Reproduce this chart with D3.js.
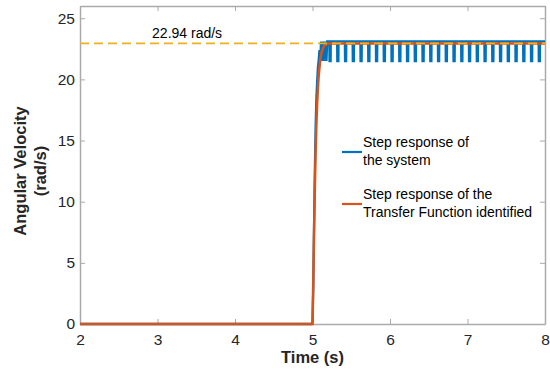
<!DOCTYPE html>
<html>
<head>
<meta charset="utf-8">
<script src="https://cdn.jsdelivr.net/npm/d3@7"></script>
<style>
  body { margin: 0; background: #fff; }
  text { font-family: "Liberation Sans", Arial, sans-serif; }
</style>
</head>
<body>
<div class="chart"></div>
<script>
// step response of the system (blue): rise, then plateau with periodic dips
const riseTime = [2, 4.99, 5.0, 5.01, 5.02, 5.03, 5.04, 5.05, 5.06, 5.07, 5.08, 5.09, 5.1, 5.11, 5.12, 5.13, 5.14, 5.15, 5.16, 5.17, 5.18, 5.19, 5.2]
const riseValue = [0, 0, 0.2, 3, 8, 12.5, 16, 18.5, 19.8, 21, 21.6, 22.4, 21.5, 23.1, 21.5, 23.1, 21.5, 23.1, 21.5, 23.1, 21.5, 23.1, 23.1]
const dipTimes = [5.22, 5.32, 5.42, 5.52, 5.62, 5.72, 5.82, 5.92, 6.02, 6.12, 6.22, 6.32, 6.42, 6.52,
  6.62, 6.72, 6.82, 6.92, 7.02, 7.12, 7.22, 7.32, 7.42, 7.52, 7.62, 7.72, 7.82, 7.92]
const plateauTop = 23.1
const dipLow = 21.5

// identified transfer function (orange)
const tfTime = [2, 4.99, 5.0, 5.01, 5.02, 5.03, 5.04, 5.05, 5.06, 5.07, 5.08, 5.1, 5.12, 5.15, 5.2, 8]
const tfValue = [0, 0, 0, 3.5, 7.5, 11, 14, 16.3, 18, 19.3, 20.3, 21.6, 22.3, 22.75, 22.94, 22.94]

const steadyValue = 22.94
const xTicks = [2, 3, 4, 5, 6, 7, 8]
const yTicks = [0, 5, 10, 15, 20, 25]

const margin = { top: 6, right: 5, bottom: 45, left: 80 }
const width = 550 - margin.left - margin.right
const height = 369 - margin.top - margin.bottom

const svg = d3.select('.chart').append('svg')
  .attr('width', 550).attr('height', 369)
  .append('g')
  .attr('transform', `translate(${margin.left}, ${margin.top})`)

const x = d3.scaleLinear().domain([2, 8]).range([0, width])
const y = d3.scaleLinear().domain([0, 26]).range([height, 0])

// axes with inward ticks, box on (drawn first so the lines sit on top)
const axisColor = '#aaa'
const styleAxis = g => {
  g.select('.domain').attr('stroke', axisColor).attr('stroke-width', 1.5)
  g.selectAll('.tick line').attr('stroke', axisColor)
  g.selectAll('.tick text').attr('fill', '#262626').style('font-size', '15.5px')
}
svg.append('g').attr('transform', `translate(0, ${height})`)
  .call(d3.axisBottom(x).tickValues(xTicks).tickFormat(d3.format('d')).tickSize(-5).tickPadding(10).tickSizeOuter(0))
  .call(styleAxis)
svg.append('g')
  .call(d3.axisLeft(y).tickValues(yTicks).tickFormat(d3.format('d')).tickSize(-5).tickPadding(5).tickSizeOuter(0))
  .call(styleAxis)
svg.append('g')
  .call(d3.axisTop(x).tickValues(xTicks).tickSize(-5).tickFormat('').tickSizeOuter(0))
  .call(styleAxis)
svg.append('g').attr('transform', `translate(${width}, 0)`)
  .call(d3.axisRight(y).tickValues(yTicks).tickSize(-5).tickFormat('').tickSizeOuter(0))
  .call(styleAxis)

// build blue series from the arrays above
const blue = riseTime.map((t, i) => [t, riseValue[i]])
dipTimes.forEach(t => {
  blue.push([t - 0.002, plateauTop], [t, dipLow], [t + 0.014, dipLow], [t + 0.016, plateauTop])
})
blue.push([8, plateauTop])
const orange = tfTime.map((t, i) => [t, tfValue[i]])

const line = d3.line().x(d => x(d[0])).y(d => y(d[1]))

svg.append('path').datum(blue)
  .attr('d', line).attr('fill', 'none').attr('stroke', '#0072BD').attr('stroke-width', 2.3)
svg.append('path').datum(orange)
  .attr('d', line).attr('fill', 'none').attr('stroke', '#D95319').attr('stroke-width', 2.5)

svg.append('line')
  .attr('x1', x(2)).attr('x2', x(8)).attr('y1', y(steadyValue)).attr('y2', y(steadyValue))
  .attr('stroke', '#EDB120').attr('stroke-width', 1.8).attr('stroke-dasharray', '9,5')

svg.append('text').attr('x', x(2.93)).attr('y', 32)
  .style('font-size', '14px').attr('fill', '#000').text('22.94 rad/s')

// axis titles
svg.append('text').attr('x', x(5)).attr('y', height + 39)
  .attr('text-anchor', 'middle').style('font-size', '16.5px').style('font-weight', 'bold')
  .attr('fill', '#262626').text('Time (s)')
const yTitle = svg.append('text')
  .attr('transform', `translate(${-54}, ${height / 2 + 6}) rotate(-90)`)
  .attr('text-anchor', 'middle').style('font-size', '16.5px').style('font-weight', 'bold')
  .attr('fill', '#262626')
yTitle.append('tspan').attr('x', 0).attr('dy', 0).text('Angular Velocity')
yTitle.append('tspan').attr('x', 0).attr('dy', 20).text('(rad/s)')

// legend
const legend = [
  { color: '#0072BD', lines: ['Step response of', 'the system'], y: 152 },
  { color: '#D95319', lines: ['Step response of the', 'Transfer Function identified'], y: 204 }
]
legend.forEach(item => {
  const g = svg.append('g').attr('transform', `translate(${342 - margin.left}, ${item.y - margin.top})`)
  g.append('line').attr('x1', 0).attr('x2', 20).attr('y1', 0).attr('y2', 0)
    .attr('stroke', item.color).attr('stroke-width', 2.2)
  item.lines.forEach((t, i) => {
    g.append('text').attr('x', 21).attr('y', -5 + i * 18)
      .style('font-size', '14px').attr('fill', '#000').text(t)
  })
})
</script>
</body>
</html>
